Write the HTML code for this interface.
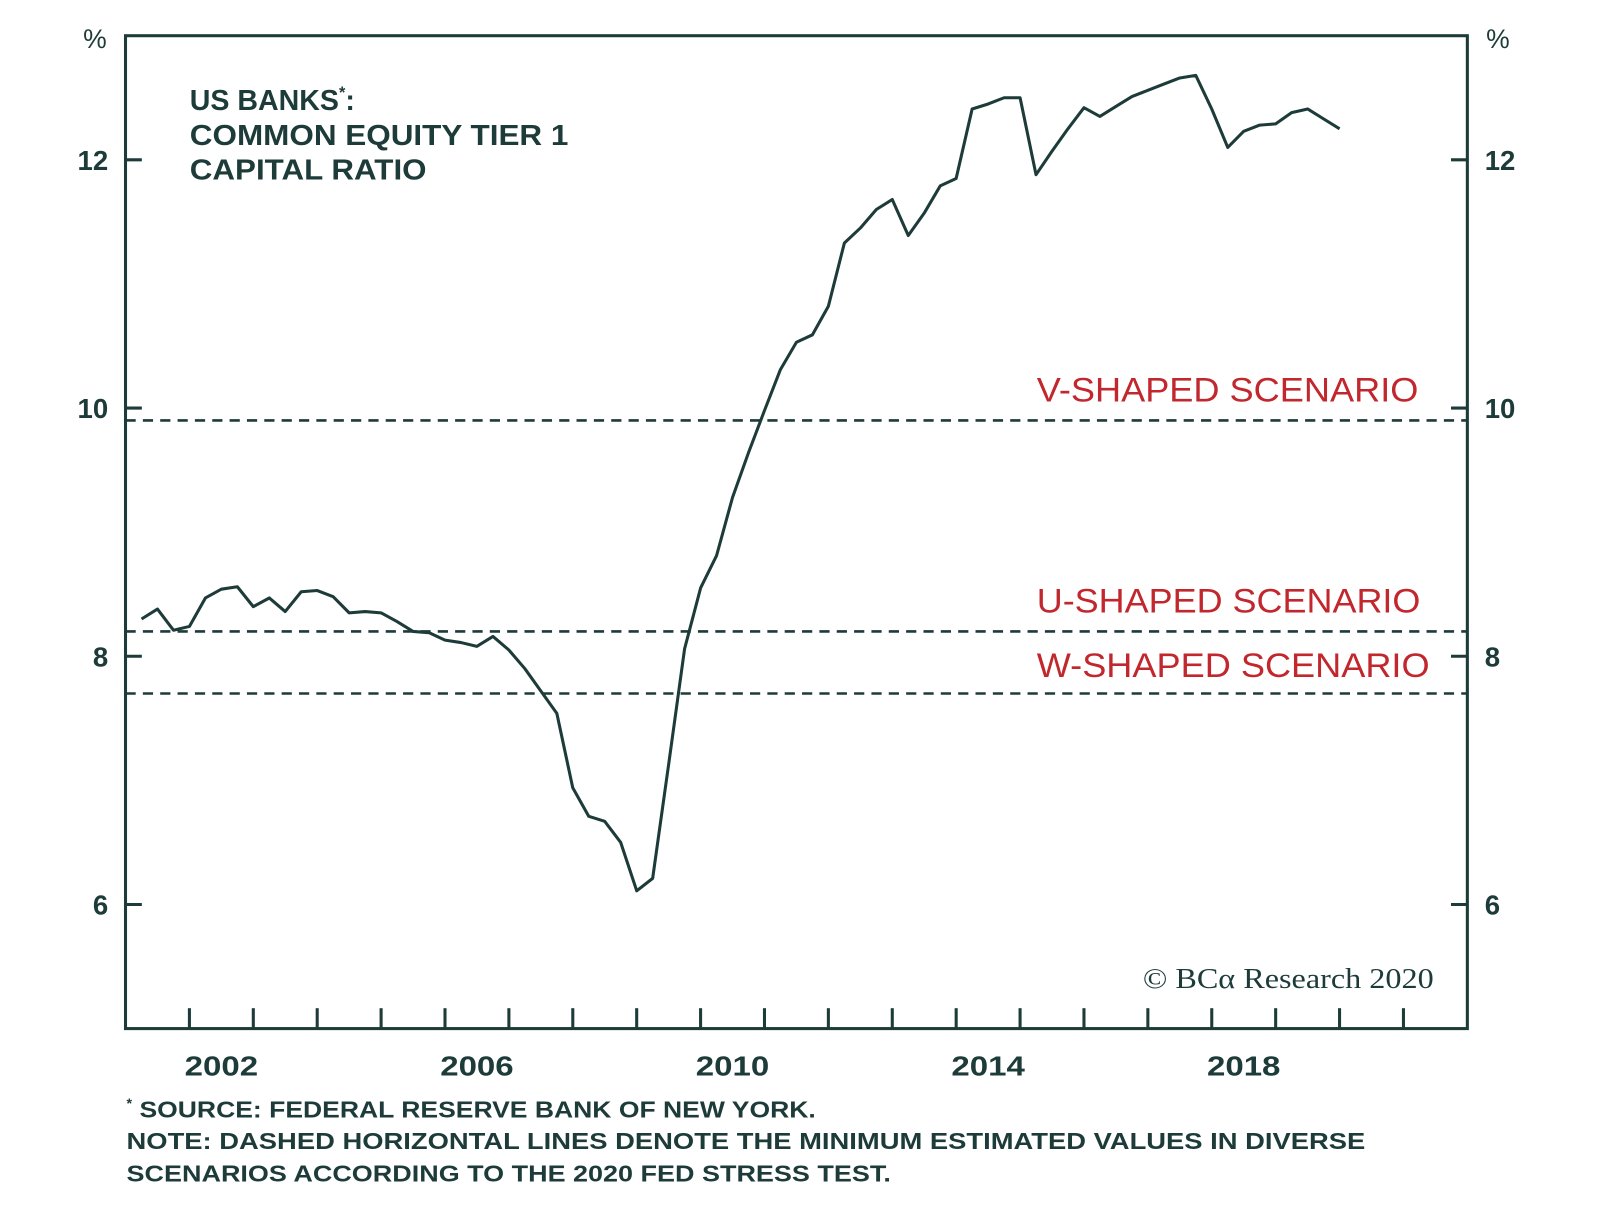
<!DOCTYPE html>
<html><head><meta charset="utf-8"><style>
body{margin:0;background:#fff;}
svg{display:block;font-family:"Liberation Sans",sans-serif;}
</style></head><body>
<svg id="chart" width="1600" height="1219" viewBox="0 0 1568 1194.6" preserveAspectRatio="none" xmlns="http://www.w3.org/2000/svg">
<rect width="1568" height="1195" fill="#fff"/>
<g id="axes"></g>
<g id="plot"></g>
<text x="186" y="108" font-size="28" font-weight="bold" fill="#1d3b39">US BANKS<tspan font-size="16" dy="-12">*</tspan><tspan dy="12">:</tspan></text>
<text x="186" y="142" font-size="28" font-weight="bold" fill="#1d3b39" textLength="371" lengthAdjust="spacingAndGlyphs">COMMON EQUITY TIER 1</text>
<text x="186" y="176" font-size="28" font-weight="bold" fill="#1d3b39" textLength="232" lengthAdjust="spacingAndGlyphs">CAPITAL RATIO</text>
<text x="1120" y="968" font-family="Liberation Serif, serif" font-size="28" fill="#1d3b39" textLength="285" lengthAdjust="spacingAndGlyphs">© BCα Research 2020</text>
<text x="124" y="1095" font-size="23" font-weight="bold" fill="#1d3b39"><tspan font-size="14" dy="-9">*</tspan><tspan dy="9" textLength="670" lengthAdjust="spacingAndGlyphs"> SOURCE: FEDERAL RESERVE BANK OF NEW YORK.</tspan></text>
<text x="124" y="1126" font-size="23" font-weight="bold" fill="#1d3b39" textLength="1214" lengthAdjust="spacingAndGlyphs">NOTE: DASHED HORIZONTAL LINES DENOTE THE MINIMUM ESTIMATED VALUES IN DIVERSE</text>
<text x="124" y="1158" font-size="23" font-weight="bold" fill="#1d3b39" textLength="749" lengthAdjust="spacingAndGlyphs">SCENARIOS ACCORDING TO THE 2020 FED STRESS TEST.</text>
</svg>
<script>
const startYear = 2001.25;
const series = [8.30,8.38,8.21,8.24,8.47,8.54,8.56,8.40,8.47,8.36,8.52,8.53,8.48,8.35,8.36,8.35,8.28,8.20,8.19,8.13,8.11,8.08,8.16,8.05,7.90,7.72,7.54,6.94,6.71,6.67,6.50,6.11,6.21,7.13,8.06,8.55,8.81,9.28,9.64,9.98,10.31,10.53,10.59,10.82,11.33,11.45,11.60,11.68,11.39,11.57,11.79,11.85,12.41,12.45,12.50,12.50,11.88,12.07,12.25,12.42,12.35,12.43,12.51,12.56,12.61,12.66,12.68,12.41,12.10,12.23,12.28,12.29,12.38,12.41,12.33,12.25];
const scenarioNames = ["V-SHAPED SCENARIO","U-SHAPED SCENARIO","W-SHAPED SCENARIO"];
const scenarioValues = [9.9,8.2,7.7];
const scenarioLabelY = [10.15,8.45,7.93];
const yTicks = [6,8,10,12];
const xLabels = [2002,2006,2010,2014,2018];
const xTickYears = [2002,2003,2004,2005,2006,2007,2008,2009,2010,2011,2012,2013,2014,2015,2016,2017,2018,2019,2020,2021];

const L=123,R=1438,T=35,B=1008, X0=2001,X1=2022,Y0=5,Y1=13;
const xs=v=>L+(v-X0)/(X1-X0)*(R-L);
const ys=v=>B-(v-Y0)/(Y1-Y0)*(B-T);
const NS="http://www.w3.org/2000/svg", C="#1d3b39", RED="#c1272d";
function mk(tag,attrs,parent,text){const e=document.createElementNS(NS,tag);for(const k in attrs)e.setAttribute(k,attrs[k]);if(text!==undefined)e.textContent=text;parent.appendChild(e);return e;}
const ax=document.getElementById('axes'), pl=document.getElementById('plot');

let fr=mk('rect',{x:L,y:T,width:R-L,height:B-T,fill:'none',stroke:C,'stroke-width':3},ax);


yTicks.forEach(v=>{
  let t1=mk('line',{x1:L,x2:L+16,y1:ys(v),y2:ys(v),stroke:C,'stroke-width':3},ax);
  
  
  let t2=mk('line',{x1:R-16,x2:R,y1:ys(v),y2:ys(v),stroke:C,'stroke-width':3},ax);
  
  
  let l1=mk('text',{x:106,y:ys(v)+10,'text-anchor':'end','font-size':27,'font-weight':'bold',fill:C},ax,String(v));
  
  
  let l2=mk('text',{x:1455,y:ys(v)+10,'font-size':27,'font-weight':'bold',fill:C},ax,String(v));
  
  
});
let p1=mk('text',{x:93,y:47,'text-anchor':'middle','font-size':26,fill:C},ax,'%');


let p2=mk('text',{x:1468,y:47,'text-anchor':'middle','font-size':26,fill:C},ax,'%');


xTickYears.forEach(v=>{
  let t=mk('line',{x1:xs(v),x2:xs(v),y1:B-20,y2:B,stroke:C,'stroke-width':3},ax);
  
  
});
xLabels.forEach(v=>{
  let t=mk('text',{x:xs(v+0.5),y:1054,'text-anchor':'middle','font-size':27,'font-weight':'bold',fill:C,textLength:72,lengthAdjust:'spacingAndGlyphs'},ax,String(v));
  
  
});
scenarioValues.forEach((v,i)=>{
  let d=mk('line',{x1:L,x2:R,y1:ys(v),y2:ys(v),stroke:C,'stroke-width':2.5,'stroke-dasharray':'10 7'},pl);
  
  
  let t=mk('text',{x:1016,y:ys(scenarioLabelY[i])+12,'font-size':34,fill:RED,textLength:i===2?385:(i===1?376:374),lengthAdjust:'spacingAndGlyphs'},pl,scenarioNames[i]);
  
  
});
const pts=series.map((v,i)=>xs(startYear+i*0.25).toFixed(1)+','+ys(v).toFixed(1)).join(' ');
let line=mk('polyline',{points:pts,fill:'none',stroke:C,'stroke-width':3,'stroke-linejoin':'round'},pl);


</script>
</body></html>
